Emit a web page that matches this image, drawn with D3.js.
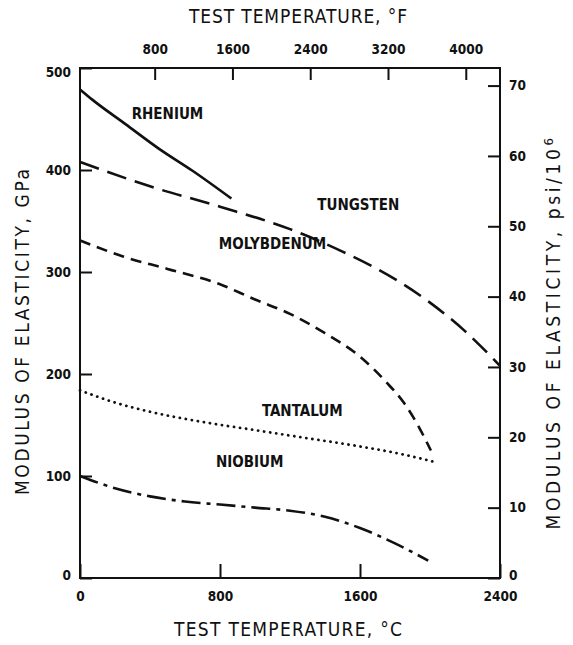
<!DOCTYPE html>
<html>
<head>
<meta charset="utf-8">
<script src="https://cdn.jsdelivr.net/npm/d3@7"></script>
<style>
  body { margin: 0; background: #fff; }
  text { font-family: "DejaVu Sans Condensed", "DejaVu Sans", sans-serif; fill: #111; }
</style>
</head>
<body>
<div class="chart"></div>
<script>
'use strict';

// Modulus of elasticity (GPa) vs test temperature (deg C)
var rheniumT    = [0, 70, 260, 450, 645, 865];
var rheniumE    = [479, 469, 445, 421, 399, 372];

var tungstenT   = [0, 400, 800, 1200, 1500, 1800, 2000, 2200, 2400];
var tungstenE   = [408, 384, 364, 342, 320, 293, 270, 242, 208];

var molybdenumT = [0, 250, 500, 800, 1000, 1200, 1400, 1600, 1750, 1850, 1930, 2005];
var molybdenumE = [331, 315, 303, 288, 273, 259, 240, 217, 192, 172, 150, 125];

var tantalumT   = [0, 200, 400, 700, 1000, 1300, 1600, 1850, 2020];
var tantalumE   = [184, 172, 163, 153, 145, 137, 129, 121, 114];

var niobiumT    = [0, 200, 400, 600, 800, 1000, 1200, 1400, 1600, 1800, 1990];
var niobiumE    = [100, 88, 80, 75, 72, 69, 66, 60, 49, 34, 17];

// tick labels
var celsiusTicks    = [0, 800, 1600, 2400];
var fahrenheitTicks = [800, 1600, 2400, 3200, 4000];
var gpaTicks        = [0, 100, 200, 300, 400, 500];
var psiTicks        = [0, 10, 20, 30, 40, 50, 60, 70];

var width = 573,
    height = 645,
    plot = { left: 80, right: 500, top: 68, bottom: 578 };

var svg = d3.select('.chart')
  .append('svg')
  .attr('width', width)
  .attr('height', height);

var x = d3.scaleLinear().domain([0, 2400]).range([plot.left, plot.right]);
// same span in fahrenheit for the top axis
var xF = d3.scaleLinear().domain([32, 2400 * 1.8 + 32]).range([plot.left, plot.right]);
var y = d3.scaleLinear().domain([0, 500]).range([plot.bottom, plot.top]);
// 1 GPa = 0.145 x 10^6 psi
var yPsi = d3.scaleLinear().domain([0, 500 * 0.145]).range([plot.bottom, plot.top]);

// plot frame
svg.append('rect')
  .attr('x', plot.left)
  .attr('y', plot.top)
  .attr('width', plot.right - plot.left)
  .attr('height', plot.bottom - plot.top)
  .attr('fill', 'none')
  .attr('stroke', '#111')
  .attr('stroke-width', 2);

// axes, ticks point inwards
var bottomAxis = svg.append('g')
  .attr('transform', 'translate(0,' + plot.bottom + ')')
  .call(d3.axisBottom(x).tickValues(celsiusTicks).tickSize(-14).tickPadding(13).tickFormat(d3.format('d')));

var topAxis = svg.append('g')
  .attr('transform', 'translate(0,' + plot.top + ')')
  .call(d3.axisTop(xF).tickValues(fahrenheitTicks).tickSize(-12).tickPadding(14).tickFormat(d3.format('d')));

var leftAxis = svg.append('g')
  .attr('transform', 'translate(' + plot.left + ',0)')
  .call(d3.axisLeft(y).tickValues(gpaTicks).tickSize(-12).tickPadding(9).tickFormat(d3.format('d')));

var rightAxis = svg.append('g')
  .attr('transform', 'translate(' + plot.right + ',0)')
  .call(d3.axisRight(yPsi).tickValues(psiTicks).tickSize(-12).tickPadding(9).tickFormat(d3.format('d')));

[bottomAxis, topAxis, leftAxis, rightAxis].forEach(function(a) {
  a.select('.domain').remove();
  a.selectAll('line').attr('stroke', '#111').attr('stroke-width', 2);
  a.selectAll('text')
    .style('font-size', '13.5px')
    .style('font-weight', 'bold')
    .attr('fill', '#111');
});

// corner labels sit a little inside the frame
leftAxis.selectAll('.tick text').filter(function(d) { return d === 500; }).attr('dy', '0.6em');
leftAxis.selectAll('.tick text').filter(function(d) { return d === 0; }).attr('dy', '0.1em');
rightAxis.selectAll('.tick text').filter(function(d) { return d === 0; }).attr('dy', '0.1em');

// curves
var line = d3.line()
  .x(function(d) { return x(d[0]); })
  .y(function(d) { return y(d[1]); })
  .curve(d3.curveMonotoneX);

var series = [
  { name: 'RHENIUM',    t: rheniumT,    e: rheniumE,    dash: null,       cap: 'butt'  },
  { name: 'TUNGSTEN',   t: tungstenT,   e: tungstenE,   dash: '20,9',     cap: 'butt'  },
  { name: 'MOLYBDENUM', t: molybdenumT, e: molybdenumE, dash: '11,7',     cap: 'butt'  },
  { name: 'TANTALUM',   t: tantalumT,   e: tantalumE,   dash: '0.1,6',    cap: 'round' },
  { name: 'NIOBIUM',    t: niobiumT,    e: niobiumE,    dash: '19,6,4,6', cap: 'butt'  }
];

svg.selectAll('path.curve')
  .data(series)
  .enter().append('path')
  .attr('class', 'curve')
  .attr('d', function(s) { return line(d3.zip(s.t, s.e)); })
  .attr('fill', 'none')
  .attr('stroke', '#111')
  .attr('stroke-width', function(s) { return s.cap === 'round' ? 2.8 : 2.6; })
  .attr('stroke-linecap', function(s) { return s.cap; })
  .attr('stroke-dasharray', function(s) { return s.dash; });

// curve names, placed in data units near each curve
var curveLabels = [
  { text: 'RHENIUM',    t: 500,  e: 455 },
  { text: 'TUNGSTEN',   t: 1590, e: 366 },
  { text: 'MOLYBDENUM', t: 1100, e: 328 },
  { text: 'TANTALUM',   t: 1270, e: 164 },
  { text: 'NIOBIUM',    t: 970,  e: 114 }
];

svg.selectAll('text.curve-label')
  .data(curveLabels)
  .enter().append('text')
  .attr('class', 'curve-label')
  .attr('x', function(d) { return x(d.t); })
  .attr('y', function(d) { return y(d.e); })
  .attr('text-anchor', 'middle')
  .attr('dy', '0.35em')
  .style('font-size', '15px')
  .style('font-weight', 'bold')
  .text(function(d) { return d.text; });

// axis titles, stretched to the lettering width of the original
svg.append('text')
  .attr('x', 298)
  .attr('y', 16)
  .attr('text-anchor', 'middle')
  .attr('dy', '0.35em')
  .attr('textLength', 218)
  .attr('lengthAdjust', 'spacing')
  .style('font-size', '19px')
  .text('TEST TEMPERATURE, \u00b0F');

svg.append('text')
  .attr('x', 288)
  .attr('y', 629)
  .attr('text-anchor', 'middle')
  .attr('dy', '0.35em')
  .attr('textLength', 228)
  .attr('lengthAdjust', 'spacing')
  .style('font-size', '19px')
  .text('TEST TEMPERATURE, \u00b0C');

svg.append('text')
  .attr('transform', 'translate(22,332) rotate(-90)')
  .attr('text-anchor', 'middle')
  .attr('dy', '0.35em')
  .attr('textLength', 326)
  .attr('lengthAdjust', 'spacing')
  .style('font-size', '19px')
  .text('MODULUS OF ELASTICITY, GPa');

var rightTitle = svg.append('text')
  .attr('transform', 'translate(553,332) rotate(-90)')
  .attr('text-anchor', 'middle')
  .attr('dy', '0.35em')
  .style('font-size', '19px')
  .style('letter-spacing', '3.6px');
rightTitle.append('tspan').text('MODULUS OF ELASTICITY, psi/10');
rightTitle.append('tspan')
  .attr('dy', '-0.5em')
  .style('font-size', '13px')
  .text('6');
</script>
</body>
</html>
